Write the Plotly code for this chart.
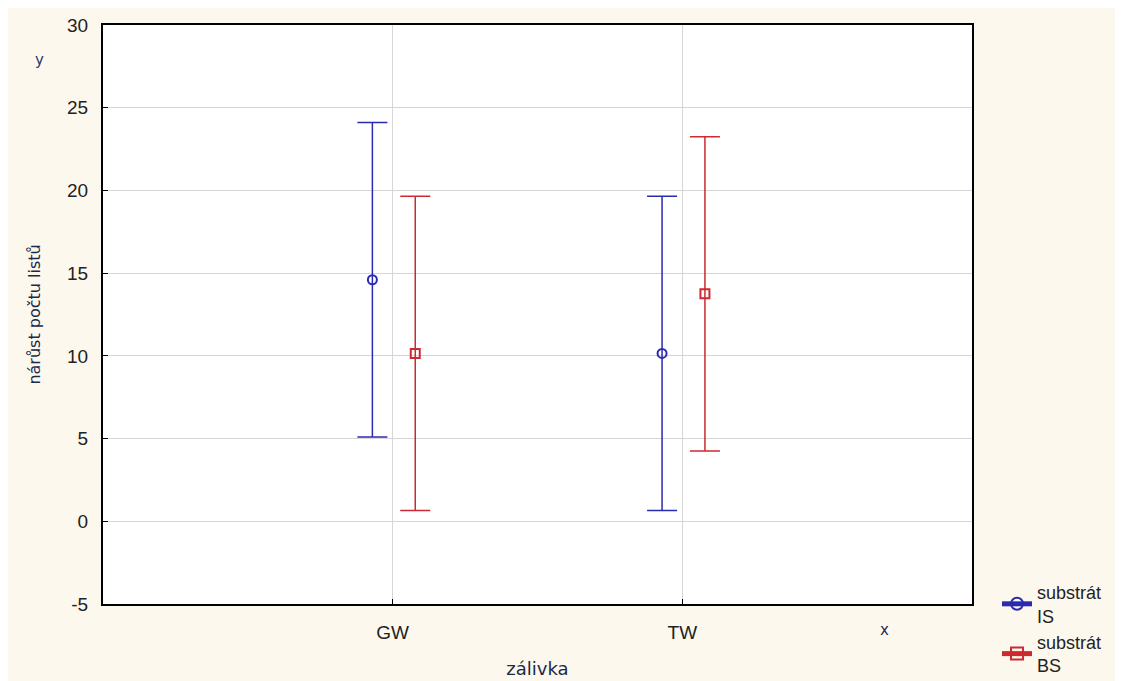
import plotly.graph_objects as go

categories = ["GW", "TW"]
is_mean = [14.6, 10.15]
is_err = [9.5, 9.5]
bs_mean = [10.15, 13.75]
bs_err = [9.5, 9.5]

y_tickvals = [-5, 0, 5, 10, 15, 20, 25, 30]
y_ticktext = ["-5", "0", "5", "10", "15", "20", "25", "30"]

series_names = ["substrát<br>IS", "substrát<br>BS"]
blue = "#2b2bb0"
red = "#cc2a30"

pos = list(range(len(categories)))
x_is = [p - 0.07 for p in pos]
x_bs = [p + 0.078 for p in pos]

fig = go.Figure()
fig.add_trace(go.Scatter(
    x=x_is, y=is_mean, mode="markers", name=series_names[0], legendgroup="is", showlegend=False,
    marker=dict(symbol="circle-open", size=9, color=blue, line=dict(width=2, color=blue)),
    error_y=dict(type="data", array=is_err, symmetric=True, color=blue, thickness=1.5, width=15),
))
fig.add_trace(go.Scatter(
    x=x_bs, y=bs_mean, mode="markers", name=series_names[1], legendgroup="bs", showlegend=False,
    marker=dict(symbol="square-open", size=9, color=red, line=dict(width=2, color=red)),
    error_y=dict(type="data", array=bs_err, symmetric=True, color=red, thickness=1.5, width=15),
))
# legend entries (no data drawn): line + marker icon like the error-bar key
fig.add_trace(go.Scatter(
    x=[None], y=[None], mode="lines+markers", name=series_names[0], legendgroup="is",
    line=dict(color=blue, width=1.5),
    marker=dict(symbol="circle-open", size=8, color=blue, line=dict(width=2, color=blue)),
))
fig.add_trace(go.Scatter(
    x=[None], y=[None], mode="lines+markers", name=series_names[1], legendgroup="bs",
    line=dict(color=red, width=1.5),
    marker=dict(symbol="square-open", size=8, color=red, line=dict(width=2, color=red)),
))

fig.update_layout(
    width=1123, height=681,
    paper_bgcolor="#fdf8ee",
    plot_bgcolor="white",
    margin=dict(l=95, r=159, t=17, b=85),
    font=dict(family="Liberation Sans, Arial", size=19, color="#222"),
    showlegend=True,
    legend=dict(x=0.8807, y=0.169, xref="container", yref="container",
                xanchor="left", yanchor="top",
                bgcolor="rgba(0,0,0,0)", font=dict(size=18, color="#222"),
                tracegroupgap=0, itemsizing="constant"),
    annotations=[
        dict(text="y", xref="paper", yref="paper", x=-0.0725, y=0.94, xanchor="center", yanchor="middle",
             showarrow=False, font=dict(family="DejaVu Sans", size=15, color="#2a3a6a")),
        dict(text="x", xref="paper", yref="paper", x=0.899, y=-0.045, xanchor="center", yanchor="middle",
             showarrow=False, font=dict(family="DejaVu Sans", size=15, color="#2a2a5a")),
    ],
)
fig.update_xaxes(
    range=[-1, 2], tickvals=pos, ticktext=categories, automargin=False,
    showgrid=True, gridcolor="#d6d6d6", gridwidth=1,
    zeroline=False, showline=True, linecolor="black", linewidth=2, mirror=True,
    ticks="inside", ticklen=5, tickcolor="black", ticklabelstandoff=10,
    title=dict(text="zálivka", font=dict(family="DejaVu Sans", size=18, color="#1a2a4a"), standoff=21),
)
fig.update_yaxes(
    range=[-5, 30], tickvals=y_tickvals, ticktext=y_ticktext, automargin=False,
    showgrid=True, gridcolor="#d6d6d6", gridwidth=1,
    zeroline=False, showline=True, linecolor="black", linewidth=2, mirror=True,
    ticks="inside", ticklen=5, tickcolor="black", ticklabelstandoff=9,
    title=dict(text="nárůst počtu listů", font=dict(family="DejaVu Sans", size=16, color="#1a2a4a"), standoff=22),
)

fig.write_html("out.html")
